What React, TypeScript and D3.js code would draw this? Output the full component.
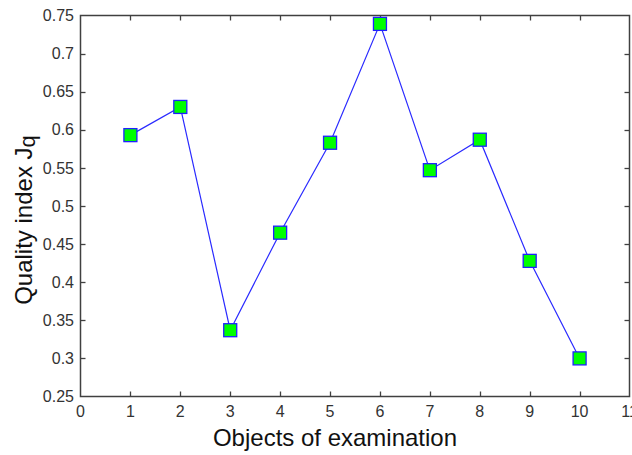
import React, { useEffect, useRef } from 'react';
import * as d3 from 'd3';

const objects = [1, 2, 3, 4, 5, 6, 7, 8, 9, 10];
const quality = [0.593, 0.63, 0.337, 0.465, 0.583, 0.739, 0.547, 0.587, 0.428, 0.3];
const xTicks = [0, 1, 2, 3, 4, 5, 6, 7, 8, 9, 10, 11];
const yTicks = [0.25, 0.3, 0.35, 0.4, 0.45, 0.5, 0.55, 0.6, 0.65, 0.7, 0.75];

const App = () => {
  const chartRef = useRef<SVGSVGElement | null>(null);

  useEffect(() => {
    document.body.style.margin = '0';
    if (!chartRef.current) return;

    const width = 632;
    const height = 455;
    const left = 80.5, right = 629.5, top = 15.5, bottom = 396.5;
    const axisColor = '#404040';
    const textColor = '#333333';
    const font = 'Liberation Sans, Arial, Helvetica, sans-serif';

    const svg = d3.select(chartRef.current);
    svg.selectAll('*').remove();
    svg.attr('width', width).attr('height', height).style('background', '#fff');

    const x = d3.scaleLinear().domain([0, 11]).range([left, right]);
    const y = d3.scaleLinear().domain([0.25, 0.75]).range([bottom, top]);

    // box
    svg
      .append('rect')
      .attr('x', left)
      .attr('y', top)
      .attr('width', right - left)
      .attr('height', bottom - top)
      .attr('fill', 'none')
      .attr('stroke', axisColor)
      .attr('stroke-width', 1.5);

    const tickLen = 5;

    // x ticks (bottom and top, inward)
    const xt = svg.append('g');
    xTicks.forEach(t => {
      const px = Math.round(x(t)) + 0.5;
      if (t > 0 && t < 11) {
        xt.append('line').attr('x1', px).attr('x2', px).attr('y1', bottom).attr('y2', bottom - tickLen)
          .attr('stroke', axisColor).attr('stroke-width', 1.3);
        xt.append('line').attr('x1', px).attr('x2', px).attr('y1', top).attr('y2', top + tickLen)
          .attr('stroke', axisColor).attr('stroke-width', 1.3);
      }
      xt.append('text')
        .attr('x', x(t))
        .attr('y', 417)
        .attr('text-anchor', 'middle')
        .attr('font-family', font)
        .attr('font-size', 16)
        .attr('fill', textColor)
        .text(d3.format('')(t));
    });

    // y ticks (left and right, inward)
    const yt = svg.append('g');
    yTicks.forEach(t => {
      const py = Math.round(y(t)) + 0.5;
      if (t > 0.25 && t < 0.75) {
        yt.append('line').attr('x1', left).attr('x2', left + tickLen).attr('y1', py).attr('y2', py)
          .attr('stroke', axisColor).attr('stroke-width', 1.3);
        yt.append('line').attr('x1', right).attr('x2', right - tickLen).attr('y1', py).attr('y2', py)
          .attr('stroke', axisColor).attr('stroke-width', 1.3);
      }
      yt.append('text')
        .attr('x', 74)
        .attr('y', y(t))
        .attr('dy', '0.35em')
        .attr('text-anchor', 'end')
        .attr('font-family', font)
        .attr('font-size', 16)
        .attr('fill', textColor)
        .text(String(+t.toFixed(2)));
    });

    // line
    const pts = objects.map((o, i) => [o, quality[i]] as [number, number]);
    const line = d3.line<[number, number]>().x(d => x(d[0])).y(d => y(d[1]));
    svg
      .append('path')
      .attr('d', line(pts))
      .attr('fill', 'none')
      .attr('stroke', '#2a2aff')
      .attr('stroke-width', 1.2);

    // markers
    const size = 13;
    svg
      .selectAll('.marker')
      .data(pts)
      .enter()
      .append('rect')
      .attr('class', 'marker')
      .attr('x', d => x(d[0]) - size / 2)
      .attr('y', d => y(d[1]) - size / 2)
      .attr('width', size)
      .attr('height', size)
      .attr('fill', '#00ff00')
      .attr('stroke', '#2020ff')
      .attr('stroke-width', 1.3);

    // x label
    svg
      .append('text')
      .attr('x', 335)
      .attr('y', 446)
      .attr('text-anchor', 'middle')
      .attr('font-family', font)
      .attr('font-size', 24)
      .attr('fill', '#111')
      .text('Objects of examination');

    // y label
    const yl = svg
      .append('text')
      .attr('transform', 'translate(32,220) rotate(-90)')
      .attr('text-anchor', 'middle')
      .attr('font-family', font)
      .attr('font-size', 24)
      .attr('fill', '#111');
    yl.append('tspan').text('Quality index J');
    yl.append('tspan').attr('dy', 3).attr('font-size', 22).text('q');
  }, []);

  return <svg ref={chartRef}></svg>;
};

export default App;
